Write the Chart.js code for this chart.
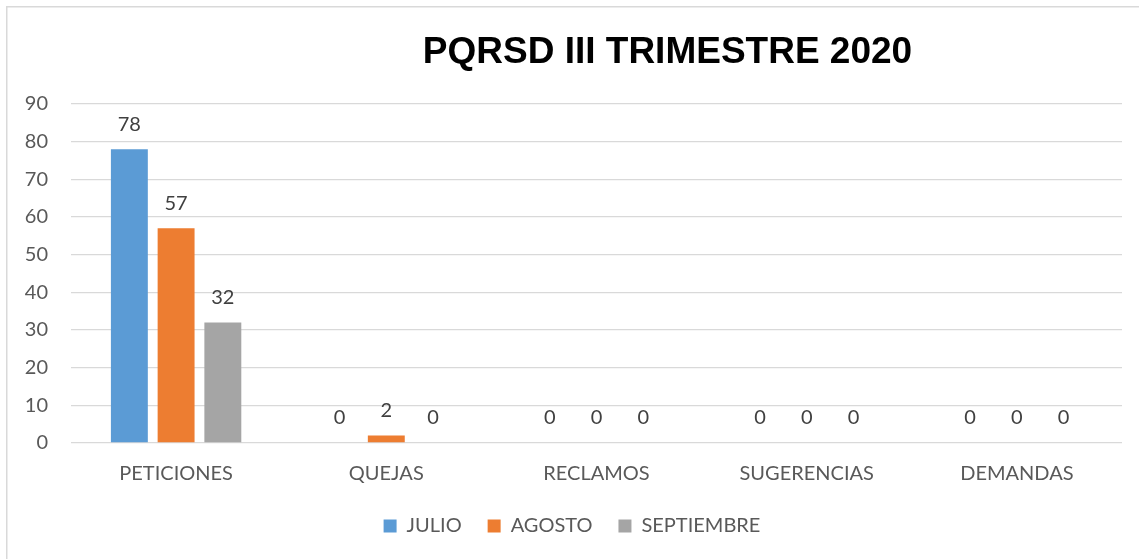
<!DOCTYPE html>
<html><head><meta charset="utf-8">
<script src="https://cdn.jsdelivr.net/npm/chart.js@4.4.1/dist/chart.umd.min.js"></script>
<style>html,body{margin:0;padding:0;background:#fff;}#wrap{width:1139px;height:559px;position:relative;}</style>
</head><body><div id="wrap"><canvas id="c" width="1139" height="559"></canvas></div>
<script>
const chartTitle = 'PQRSD III TRIMESTRE 2020';
const categories = ['PETICIONES','QUEJAS','RECLAMOS','SUGERENCIAS','DEMANDAS'];
const seriesNames = ['JULIO','AGOSTO','SEPTIEMBRE'];
const julio = [78,0,0,0,0];
const agosto = [57,2,0,0,0];
const septiembre = [32,0,0,0,0];
const yTicks = [0,10,20,30,40,50,60,70,80,90];
const colors = ['#5B9BD5','#ED7D31','#A5A5A5'];
const FONT = 'Lato, "Open Sans", sans-serif';

const decor = {
  id:'decor',
  beforeDraw(chart){
    const ctx = chart.ctx;
    ctx.save();
    ctx.fillStyle='#fff';ctx.fillRect(0,0,chart.width,chart.height);
    ctx.strokeStyle='#d9d9d9';ctx.lineWidth=1.5;
    ctx.strokeRect(6.75,6.75,chart.width,chart.height);
    ctx.restore();
  },
  afterDraw(chart){
    const ctx = chart.ctx;
    ctx.save();
    ctx.fillStyle='#000';
    ctx.font='bold 37px "Liberation Sans", Arial, sans-serif';
    ctx.textAlign='center';ctx.textBaseline='alphabetic';
    ctx.fillText(chartTitle,667.5,63);
    ctx.fillStyle='#404040';
    ctx.font='20px '+FONT;
    ctx.textBaseline='middle';
    chart.data.datasets.forEach((ds,i)=>{
      const meta = chart.getDatasetMeta(i);
      meta.data.forEach((bar,j)=>{
        ctx.fillText(String(ds.data[j]), bar.x, bar.y-25);
      });
    });
    ctx.restore();
  }
};

new Chart(document.getElementById('c'),{
  type:'bar',
  data:{
    labels:categories,
    datasets:[
      {label:seriesNames[0],data:julio,backgroundColor:colors[0]},
      {label:seriesNames[1],data:agosto,backgroundColor:colors[1]},
      {label:seriesNames[2],data:septiembre,backgroundColor:colors[2]}
    ]
  },
  options:{
    responsive:false,animation:false,
    categoryPercentage:0.667,barPercentage:0.79,
    layout:{padding:{top:104,right:17,left:22,bottom:13}},
    plugins:{
      title:{display:false},
      tooltip:{enabled:false},
      legend:{position:'bottom',
        labels:{boxWidth:13,boxHeight:13,color:'#595959',font:{family:FONT,size:20},padding:26}}
    },
    scales:{
      x:{grid:{display:false,drawTicks:false},border:{display:false},
         afterFit(s){s.height=47;},
         ticks:{color:'#595959',font:{family:FONT,size:20},padding:19}},
      y:{min:0,max:90,
         afterFit(s){s.width=49;},
         afterBuildTicks(s){s.ticks=yTicks.map(v=>({value:v}));},
         grid:{color:'#d9d9d9',lineWidth:1.3,drawTicks:false},border:{display:false},
         ticks:{color:'#595959',font:{family:FONT,size:20},padding:23}}
    }
  },
  plugins:[decor]
});
</script></body></html>
